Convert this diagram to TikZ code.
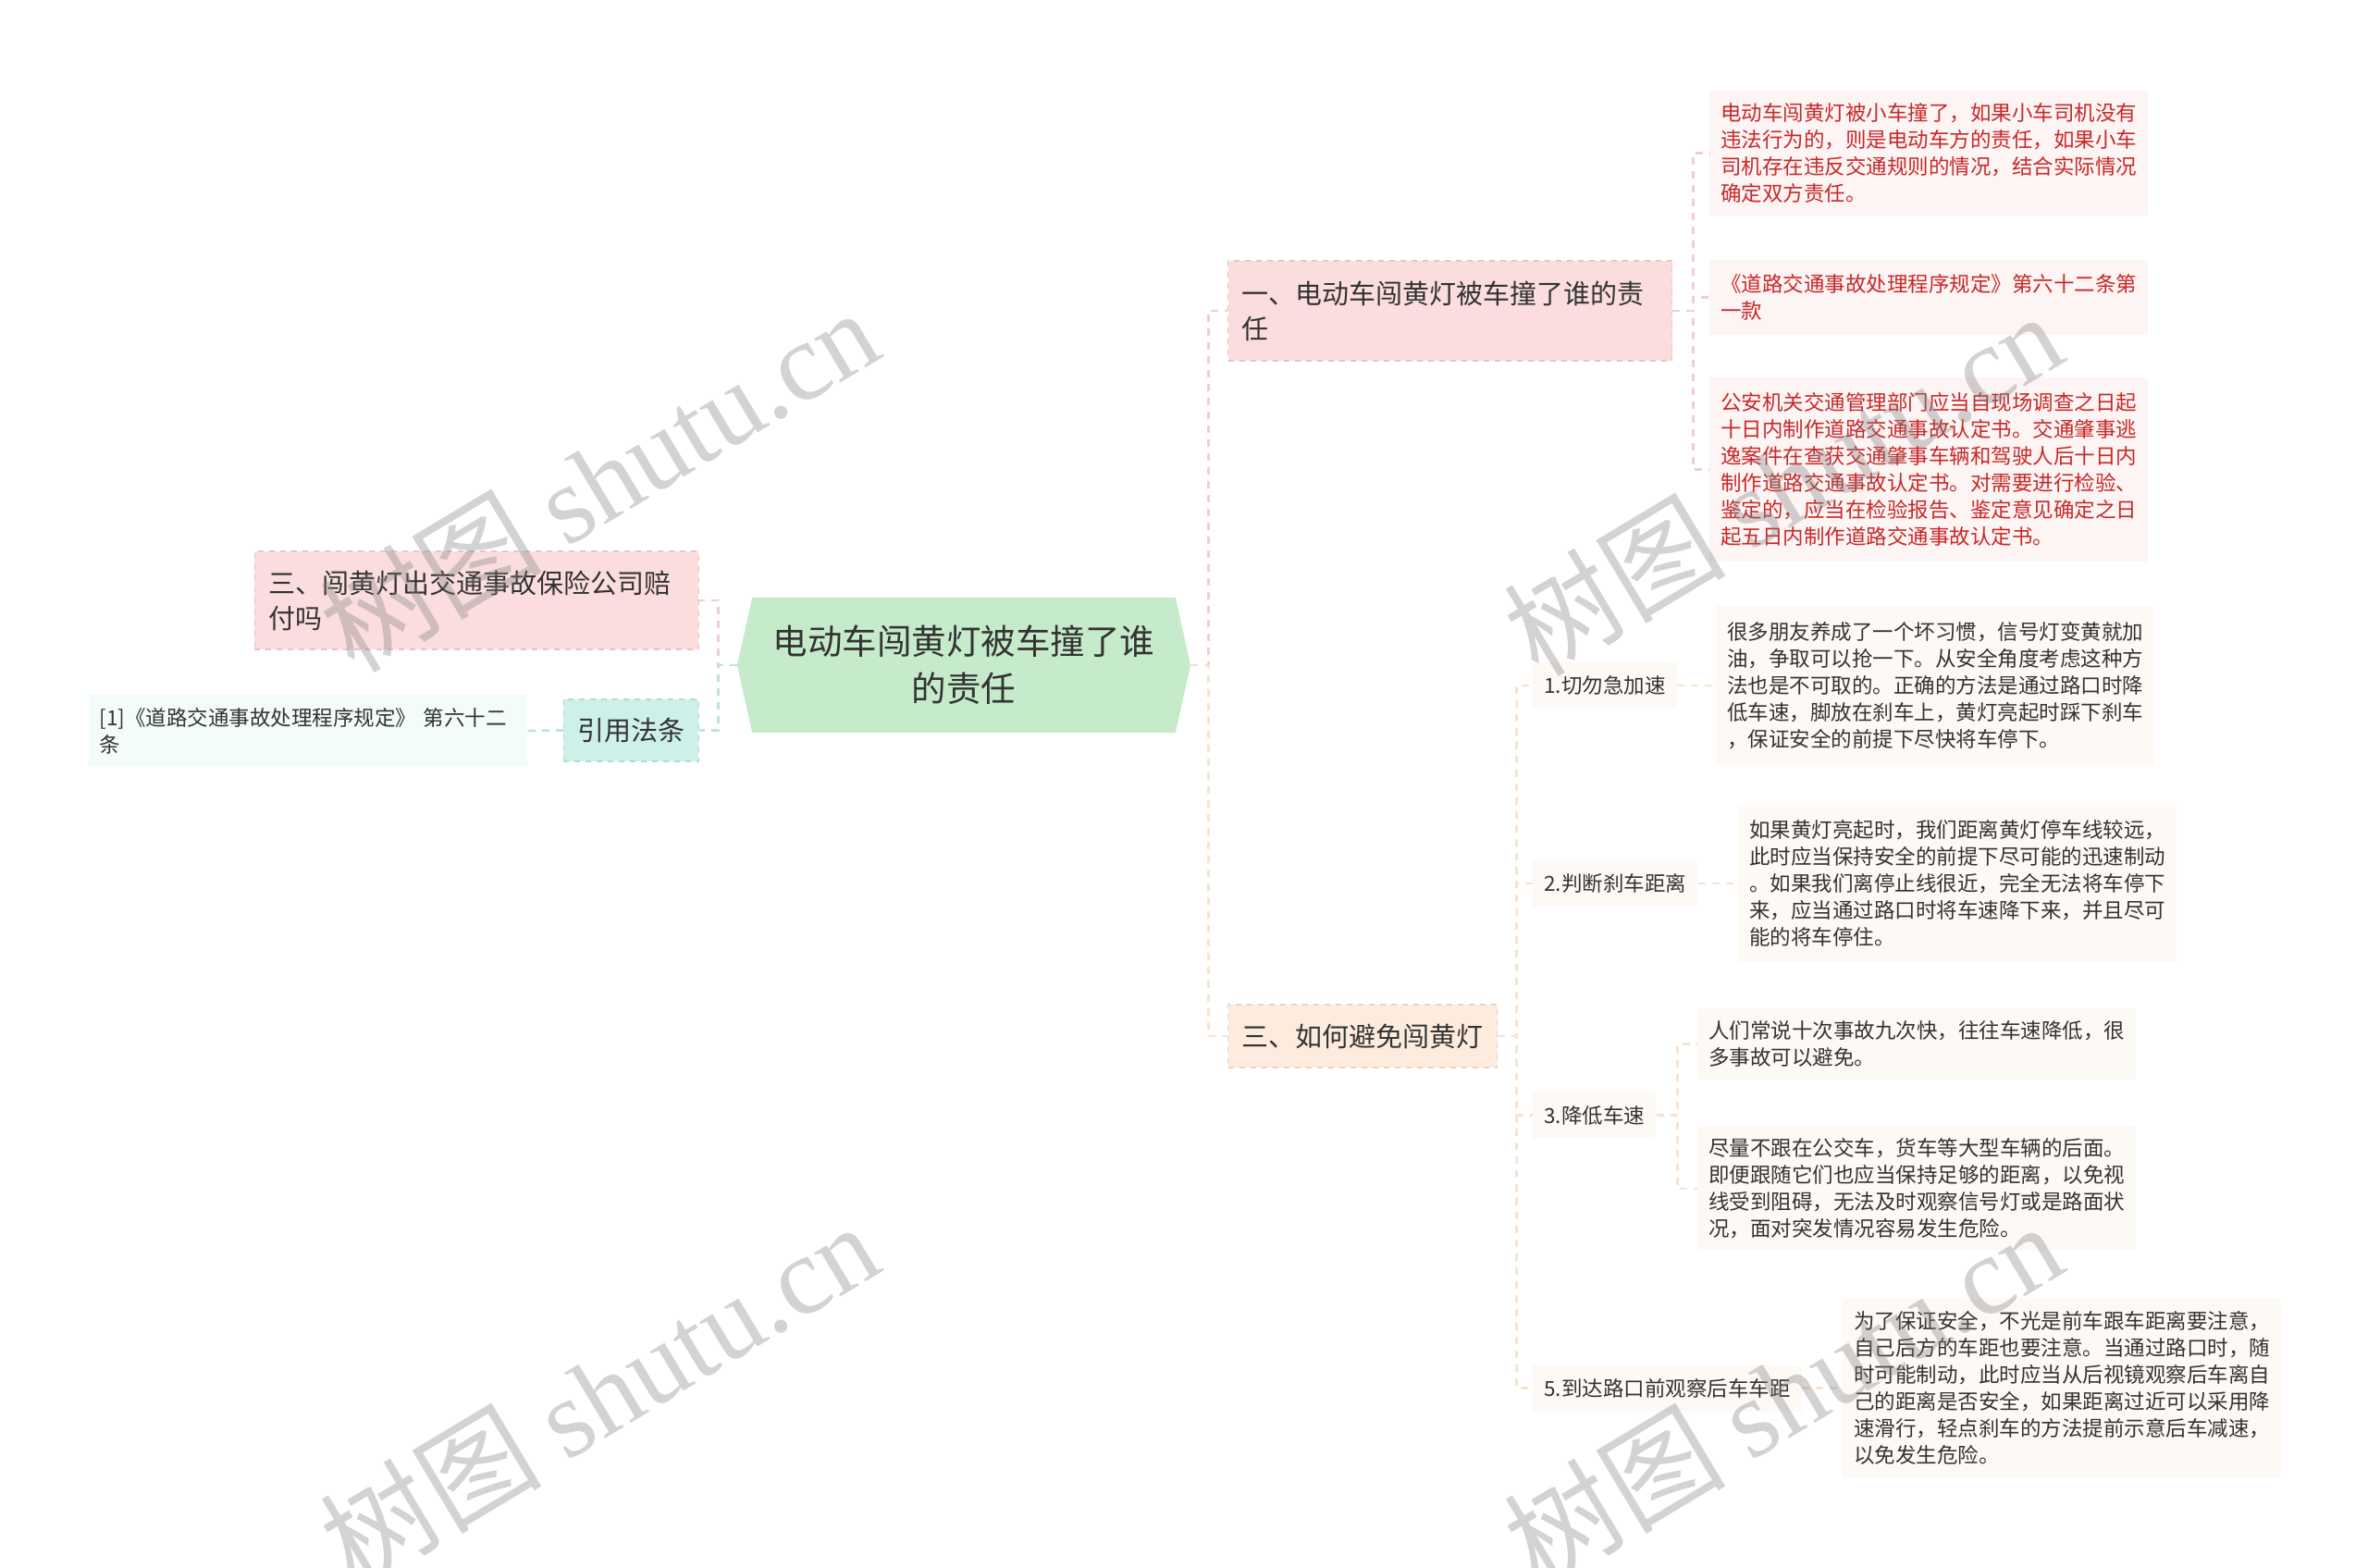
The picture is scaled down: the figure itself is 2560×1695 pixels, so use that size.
\documentclass[tikz,border=0pt]{standalone}
\usepackage{fontspec}
\setmainfont{Noto Sans CJK SC}
\newfontfamily\markfont{Liberation Serif}
\usetikzlibrary{shapes.symbols}

\definecolor{textgray}{RGB}{51,51,51}
\definecolor{rootgreen}{RGB}{197,235,202}
\definecolor{pinkfill}{RGB}{251,221,221}
\definecolor{peachfill}{RGB}{253,236,222}
\definecolor{tealfill}{RGB}{205,240,233}
\definecolor{pinknote}{RGB}{253,244,244}
\definecolor{creamnote}{RGB}{253,249,244}
\definecolor{tealnote}{RGB}{243,251,251}
\definecolor{notered}{RGB}{200,40,40}
\definecolor{pinkline}{RGB}{245,205,205}
\definecolor{peachline}{RGB}{248,226,206}
\definecolor{tealline}{RGB}{185,228,222}

\begin{document}
\begin{tikzpicture}[x=0.5pt,y=-0.5pt,
  rootbox/.style={signal, signal to=west and east, signal pointer angle=155,
    fill=rootgreen, minimum width=245pt, minimum height=73pt, align=center,
    text=textgray, font=\fontsize{18.75}{25.5}\selectfont},
  topicbox/.style={fill=#1, draw=#1!90!black, dashed, line width=0.6pt,
    inner xsep=7.5pt, align=left, text=textgray,
    font=\fontsize{14.5}{19}\selectfont},
  notebox/.style={fill=#1, inner xsep=6pt, text width=225pt, align=left,
    text=textgray, font=\fontsize{11.25}{14.5}\selectfont},
  itembox/.style={fill=creamnote, inner xsep=6pt, minimum height=25pt,
    text=textgray, font=\fontsize{11.25}{14.5}\selectfont},
  link/.style={draw=#1, line width=1.4pt, dash pattern=on 4pt off 3.5pt},
  watermark/.style={rotate=31, text=gray, opacity=0.35,
    font=\fontsize{60}{60}\selectfont}
]
\useasboundingbox (0,0) rectangle (2560,1695);

\node[rootbox] (root) at (1042,719) {电动车闯黄灯被车撞了谁\\的责任};

\node[topicbox=pinkfill, text width=225pt, minimum height=54pt, anchor=west] (duty) at (1327,336) {一、电动车闯黄灯被车撞了谁的责\\任};
\node[notebox=pinknote, text=notered, minimum height=67.5pt, anchor=west] (dutynote) at (1848,165.5) {电动车闯黄灯被小车撞了，如果小车司机没有\\违法行为的，则是电动车方的责任，如果小车\\司机存在违反交通规则的情况，结合实际情况\\确定双方责任。};
\node[notebox=pinknote, text=notered, minimum height=40.5pt, anchor=west] (dutylaw) at (1848,321.5) {《道路交通事故处理程序规定》第六十二条第\\一款};
\node[notebox=pinknote, text=notered, minimum height=99.5pt, anchor=west] (dutyrule) at (1848,507.5) {公安机关交通管理部门应当自现场调查之日起\\十日内制作道路交通事故认定书。交通肇事逃\\逸案件在查获交通肇事车辆和驾驶人后十日内\\制作道路交通事故认定书。对需要进行检验、\\鉴定的，应当在检验报告、鉴定意见确定之日\\起五日内制作道路交通事故认定书。};

\node[topicbox=peachfill, text width=130.5pt, minimum height=34pt, anchor=west] (avoid) at (1327,1120) {三、如何避免闯黄灯};
\node[itembox, anchor=west] (speed) at (1657,741) {1.切勿急加速};
\node[notebox=creamnote, minimum height=85.5pt, anchor=west] (speedtext) at (1855,741) {很多朋友养成了一个坏习惯，信号灯变黄就加\\油，争取可以抢一下。从安全角度考虑这种方\\法也是不可取的。正确的方法是通过路口时降\\低车速，脚放在刹车上，黄灯亮起时踩下刹车\\，保证安全的前提下尽快将车停下。};
\node[itembox, anchor=west] (brake) at (1657,955) {2.判断刹车距离};
\node[notebox=creamnote, minimum height=85pt, anchor=west] (braketext) at (1879,955) {如果黄灯亮起时，我们距离黄灯停车线较远，\\此时应当保持安全的前提下尽可能的迅速制动\\。如果我们离停止线很近，完全无法将车停下\\来，应当通过路口时将车速降下来，并且尽可\\能的将车停住。};
\node[itembox, anchor=west] (slow) at (1657,1205.5) {3.降低车速};
\node[notebox=creamnote, minimum height=38.5pt, anchor=west] (slowa) at (1835,1128.5) {人们常说十次事故九次快，往往车速降低，很\\多事故可以避免。};
\node[notebox=creamnote, minimum height=67pt, anchor=west] (slowb) at (1835,1285) {尽量不跟在公交车，货车等大型车辆的后面。\\即便跟随它们也应当保持足够的距离，以免视\\线受到阻碍，无法及时观察信号灯或是路面状\\况，面对突发情况容易发生危险。};
\node[itembox, anchor=west] (rear) at (1657,1500.5) {5.到达路口前观察后车车距};
\node[notebox=creamnote, minimum height=96.5pt, anchor=west] (reartext) at (1992,1500.5) {为了保证安全，不光是前车跟车距离要注意，\\自己后方的车距也要注意。当通过路口时，随\\时可能制动，此时应当从后视镜观察后车离自\\己的距离是否安全，如果距离过近可以采用降\\速滑行，轻点刹车的方法提前示意后车减速，\\以免发生危险。};

\node[topicbox=pinkfill, text width=225pt, minimum height=53pt, anchor=east] (insure) at (756,649) {三、闯黄灯出交通事故保险公司赔\\付吗};
\node[topicbox=tealfill, minimum width=72.5pt, minimum height=33.5pt, align=center, anchor=east] (cite) at (756,789.5) {引用法条};
\node[notebox=tealnote, minimum height=39pt, anchor=east] (citeref) at (570,790) {[1]《道路交通事故处理程序规定》 第六十二\\条};

\draw[link=pinkline] (root.east) -- ++(19,0) |- (duty.west);
\draw[link=peachline] (root.east) -- ++(19,0) |- (avoid.west);
\foreach \n in {dutynote,dutylaw,dutyrule}
  \draw[link=pinkline] (duty.east) -- ++(22,0) |- (\n.west);
\foreach \n in {speed,brake,slow,rear}
  \draw[link=peachline] (avoid.east) -- ++(20,0) |- (\n.west);
\draw[link=peachline] (speed.east) -- (speedtext.west);
\draw[link=peachline] (brake.east) -- (braketext.west);
\draw[link=peachline] (rear.east) -- (reartext.west);
\foreach \n in {slowa,slowb}
  \draw[link=peachline] (slow.east) -- ++(23,0) |- (\n.west);
\draw[link=pinkline] (root.west) -- ++(-20,0) |- (insure.east);
\draw[link=tealline] (root.west) -- ++(-20,0) |- (cite.east);
\draw[link=tealline] (cite.west) -- (citeref.east);

\node[watermark] (mark1) at (647,518) {树图 {\markfont shutu.cn}};
\node[watermark] (mark2) at (1927,522) {树图 {\markfont shutu.cn}};
\node[watermark] (mark3) at (647,1506) {树图 {\markfont shutu.cn}};
\node[watermark] (mark4) at (1927,1506) {树图 {\markfont shutu.cn}};
\end{tikzpicture}
\end{document}
